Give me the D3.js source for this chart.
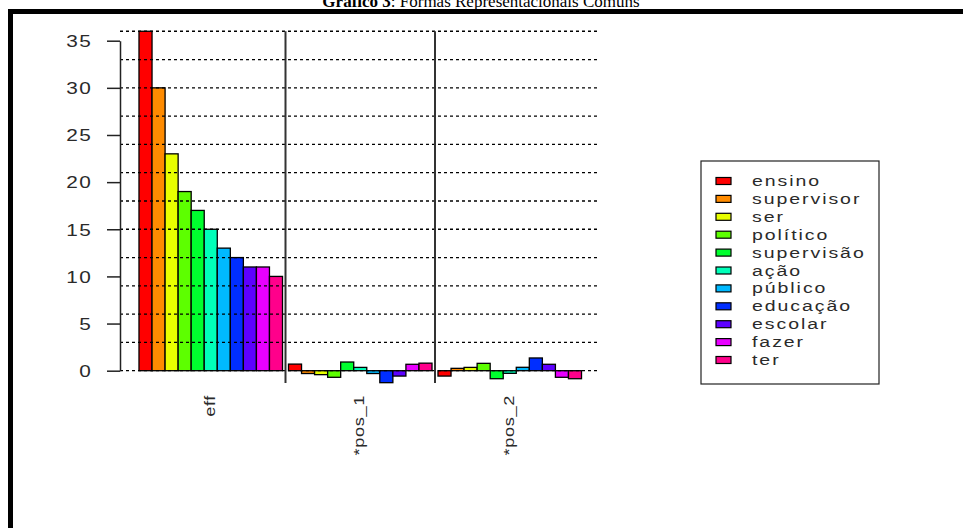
<!doctype html>
<html lang="pt">
<head>
  <meta charset="utf-8">
  <title>Gráfico 3: Formas Representacionais Comuns</title>
  <style>
   body { margin: 0; background: #fff; }
   svg { display: block; }
   .lbl { font-family: "Liberation Sans", Arial, sans-serif; fill: #2a2a2a; }
   .title { font-family: "Liberation Serif", "Times New Roman", serif; font-size: 17px; fill: #000; }
  </style>
</head>
<body>
  <svg id="chart" width="963" height="528" xmlns="http://www.w3.org/2000/svg"></svg>
  <script src="https://d3js.org/d3.v7.min.js"></script>
  <script>
   // words (legend order) and one colour per word (R rainbow(11))
   var words = ["ensino", "supervisor", "ser", "político", "supervisão", "ação",
                "público", "educação", "escolar", "fazer", "ter"];
   var colors = ["#FF0000", "#FF8B00", "#E8FF00", "#5DFF00", "#00FF2E", "#00FFB9",
                 "#00B9FF", "#002EFF", "#5D00FF", "#E800FF", "#FF008B"];
   var groups = ["eff", "*pos_1", "*pos_2"];

   // values, one array per group
   var effValues  = [36, 30, 23, 19, 17, 15, 13, 12, 11, 11, 10];
   var pos1Values = [0.7, -0.3, -0.42, -0.7, 0.92, 0.35, -0.3, -1.27, -0.57, 0.68, 0.8];
   var pos2Values = [-0.57, 0.25, 0.35, 0.78, -0.85, -0.28, 0.36, 1.35, 0.68, -0.7, -0.85];
   var yTicks = [0, 5, 10, 15, 20, 25, 30, 35];
   var gridValues = d3.range(0, 37, 3);

   var table = groups.map(function(g, gi) {
     var vals = [effValues, pos1Values, pos2Values][gi];
     return { group: g, bars: words.map(function(w, i) { return { word: w, value: vals[i], color: colors[i] }; }) };
   });

   var svg = d3.select("#chart");
   var wide = " scale(1.3,1)";   // the R bitmap font is wider than Arial

   // frame + cut-off title
   svg.append("text").attr("class", "title")
      .attr("x", 481).attr("y", 7).attr("text-anchor", "middle")
      .call(function(t) {
        t.append("tspan").attr("font-weight", "bold").text("Gráfico 3");
        t.append("tspan").text(": Formas Representacionais Comuns");
      });
   svg.append("rect").attr("x", 8).attr("y", 9).attr("width", 955).attr("height", 5).attr("fill", "#000");
   svg.append("rect").attr("x", 8).attr("y", 9).attr("width", 5).attr("height", 519).attr("fill", "#000");

   var y = d3.scaleLinear().domain([0, 35]).range([370.7, 40.7]);
   var x0 = d3.scaleBand().domain(groups).range([136, 584.5]).paddingInner(0.04).paddingOuter(0.02);
   var x1 = d3.scaleBand().domain(words).range([0, x0.bandwidth()]);

   // bars
   var g = svg.append("g").selectAll("g").data(table).enter().append("g")
      .attr("transform", function(d) { return "translate(" + x0(d.group) + ",0)"; });
   g.selectAll("rect").data(function(d) { return d.bars; }).enter().append("rect")
      .attr("x", function(d) { return x1(d.word); })
      .attr("width", x1.bandwidth())
      .attr("y", function(d) { return y(Math.max(0, d.value)); })
      .attr("height", function(d) { return Math.abs(y(d.value) - y(0)); })
      .attr("fill", function(d) { return d.color; })
      .attr("stroke", "#000").attr("stroke-width", 1.3);

   // dotted grid, drawn over the bars
   svg.append("g").selectAll("line").data(gridValues).enter().append("line")
      .attr("x1", 120).attr("x2", 598)
      .attr("y1", function(d) { return y(d); }).attr("y2", function(d) { return y(d); })
      .attr("stroke", "#000").attr("stroke-width", 1.3).attr("stroke-dasharray", "3,3");

   // group dividers
   var gap = x0.step() * x0.paddingInner();
   svg.append("g").selectAll("line").data(groups.slice(0, -1)).enter().append("line")
      .attr("x1", function(d) { return x0(d) + x0.bandwidth() + gap / 2; })
      .attr("x2", function(d) { return x0(d) + x0.bandwidth() + gap / 2; })
      .attr("y1", y(36)).attr("y2", y(-1.3))
      .attr("stroke", "#333").attr("stroke-width", 2);

   // y axis
   var yAxis = svg.append("g").attr("transform", "translate(120,0)")
      .call(d3.axisLeft(y).tickValues(yTicks).tickSize(13).tickSizeOuter(0));
   yAxis.select(".domain").attr("stroke", "#222").attr("stroke-width", 1.5);
   yAxis.selectAll(".tick line").attr("stroke", "#222").attr("stroke-width", 1.5);
   yAxis.selectAll(".tick text").attr("class", "lbl")
      .attr("x", 0).attr("dy", "0.36em").attr("transform", "translate(-28,0)" + wide)
      .attr("font-family", null).attr("fill", null)
      .style("font-size", "16px").style("letter-spacing", "1px");

   // group labels, rotated
   svg.append("g").selectAll("text").data(groups).enter().append("text")
      .attr("class", "lbl")
      .attr("transform", function(d) { return "translate(" + (x0(d) + x0.bandwidth() / 2 + 4) + ",395) rotate(-90)" + wide; })
      .attr("text-anchor", "end")
      .style("font-size", "14px").style("letter-spacing", "0.5px")
      .text(function(d) { return d; });

   // legend
   var lg = svg.append("g");
   lg.append("rect").attr("x", 701).attr("y", 161).attr("width", 178).attr("height", 223)
     .attr("fill", "#fff").attr("stroke", "#222").attr("stroke-width", 1.2);
   var items = lg.selectAll("g.item").data(words).enter().append("g").attr("class", "item")
     .attr("transform", function(d, i) { return "translate(0," + (181 + i * 17.9) + ")"; });
   items.append("rect").attr("x", 716).attr("y", -3.5).attr("width", 15).attr("height", 7)
     .attr("fill", function(d, i) { return colors[i]; }).attr("stroke", "#000").attr("stroke-width", 1.2);
   items.append("text").attr("class", "lbl")
     .attr("transform", "translate(752,5)" + wide)
     .style("font-size", "15px").style("letter-spacing", "1.5px")
     .text(function(d) { return d; });
  </script>
</body>
</html>
